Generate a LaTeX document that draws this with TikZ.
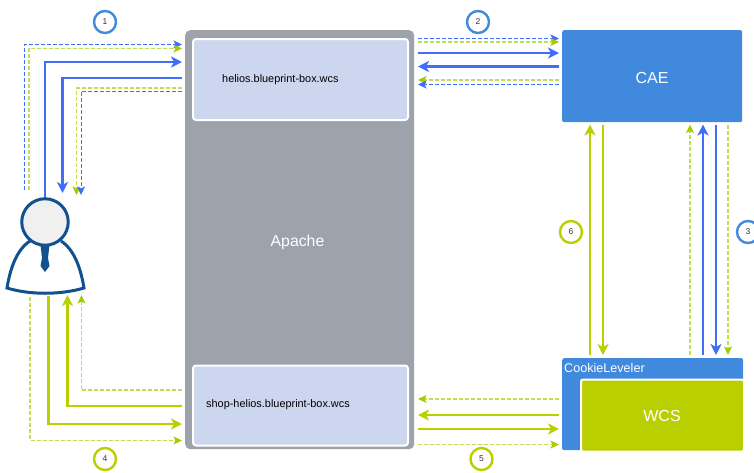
\documentclass[tikz,border=0pt]{standalone}
\usepackage{fontspec}
\setmainfont{Liberation Sans}
\usetikzlibrary{arrows.meta,positioning}
\definecolor{cblue}{HTML}{3F6FF8}
\definecolor{cgreen}{HTML}{B9CF00}
\definecolor{cdgreen}{HTML}{C4DC50}
\definecolor{chead}{HTML}{A5CC00}
\definecolor{cbox}{HTML}{4189DD}
\definecolor{cgrey}{HTML}{9EA2AA}
\definecolor{cpale}{HTML}{CCD6EE}
\definecolor{cman}{HTML}{11518F}
\tikzset{
 solidhead/.style={-{Stealth[length=11pt,width=11pt,inset=3pt]}},
 dashhead/.style={-{Stealth[length=8.5pt,width=8pt,inset=2pt]}},
 dashheadg/.style={-{Stealth[length=8.5pt,width=8pt,inset=2pt,color=chead]}},
 solidblue/.style={draw=cblue,line width=2.4pt},
 solidgreen/.style={draw=cgreen,line width=2.4pt},
 dashblue/.style={draw=cblue,line width=1pt,dash pattern=on 4pt off 2pt},
 dashgreen/.style={draw=cdgreen,line width=1.4pt,dash pattern=on 4pt off 2pt},
 panel/.style={draw=white,line width=2pt,fill=cpale,rounded corners=3pt,anchor=north west,inner sep=0pt},
 block/.style={fill=cbox,rounded corners=2pt,anchor=north west,inner sep=0pt},
 bigtext/.style={text=white,inner sep=0pt,font=\fontsize{16}{18}\selectfont},
 num/.style={circle,draw,line width=2.4pt,fill=white,minimum size=22pt,inner sep=0pt,font=\fontsize{8.5}{10}\selectfont,text=black!80},
 label/.style={font=\fontsize{10.9}{12}\selectfont,text=black,inner sep=0pt}
}
\begin{document}
\begin{tikzpicture}[x=1pt,y=-1pt]
\useasboundingbox (0,0) rectangle (754,472);
% boxes
\node[fill=cgrey,rounded corners=5pt,anchor=north west,inner sep=0pt,minimum width=229pt,minimum height=419pt] (apache) at (185,30) {};
\node[text=white,font=\fontsize{15.8}{18}\selectfont,inner sep=0pt] (apacheT) at (297.5,242) {Apache};
\node[panel,minimum width=215pt,minimum height=81pt] (helios) at (192,38) {};
\node[label,anchor=west] (heliosT) at (222,79.5) {helios.blueprint-box.wcs};
\node[panel,minimum width=215pt,minimum height=80pt] (shop) at (192,364.5) {};
\node[label,anchor=west] (shopT) at (206,405) {shop-helios.blueprint-box.wcs};
\node[block,minimum width=180pt,minimum height=92pt] (cae) at (562,30) {};
\node[bigtext] (caeT) at (652,77.5) {CAE};
\node[block,minimum width=181pt,minimum height=92pt] (cookie) at (562,358) {};
\node[text=white,anchor=west,inner sep=0pt,font=\fontsize{12.6}{14}\selectfont] (cookieT) at (564,368) {CookieLeveler};
\node[draw=white,line width=2pt,fill=cgreen,rounded corners=2pt,anchor=north west,inner sep=0pt,minimum width=163pt,minimum height=72pt] (wcs) at (580,378.5) {};
\node[bigtext] (wcsT) at (662,416) {WCS};
% person
\draw[cman,line width=3pt,fill=white,line join=miter] (30,241) .. controls (16,250) and (10,270) .. (7,288) .. controls (30,295) and (60,295) .. (84,288) .. controls (81,270) and (75,250) .. (61,241);
\fill[cman] (40.5,245) -- (49.5,245) -- (48,258) -- (49.5,266) -- (45,272) -- (40.5,266) -- (42,258) -- cycle;
% free ends
\coordinate (u1) at (24.5,190); \coordinate (h1) at (182,44.5);
\coordinate (u2) at (28.8,190); \coordinate (h2) at (182,48.5);
\coordinate (u3) at (45,198);   \coordinate (h3) at (182,62);
\coordinate (u4) at (62.5,193); \coordinate (h4) at (182,78);
\coordinate (u5) at (76.5,195); \coordinate (h5) at (182,88);
\coordinate (u6) at (81,195);   \coordinate (h6) at (182,91);
\coordinate (b1) at (30,297);   \coordinate (s1) at (182,440.5);
\coordinate (b2) at (48.5,296); \coordinate (s2) at (182,424);
\coordinate (b3) at (67.5,295); \coordinate (s3) at (182,406);
\coordinate (b4) at (81.5,295); \coordinate (s4) at (182,390);
% user <-> helios
\draw[dashblue,dashhead,cblue] (u1) |- (h1);
\draw[dashgreen,dashheadg] (u2) |- (h2);
\draw[solidblue,solidhead,cblue] (u3) |- (h3);
\draw[solidblue,solidhead,cblue] (h4) -| (u4);
\draw[dashgreen,dashheadg] (h5) -| (u5);
\draw[dashblue,dashhead,cblue] (h6) -| (u6);
\node[circle,draw=cman,line width=3pt,fill=black!6,minimum size=46.5pt,inner sep=0pt] (user) at (45,222) {};
% user <-> shop
\draw[dashgreen,dashheadg] (b1) |- (s1);
\draw[solidgreen,solidhead] (b2) |- (s2);
\draw[solidgreen,solidhead] (s3) -| (b3);
\draw[dashgreen,dashheadg] (s4) -| (b4);
% helios <-> cae
\foreach \n/\y in {a/38.5,b/42,c/53,d/66.5,e/80,f/84.5}{
 \coordinate (l\n) at (418,\y); \coordinate (r\n) at (559,\y);}
\draw[dashblue,dashhead,cblue] (la) -- (ra);
\draw[dashgreen,dashheadg] (lb) -- (rb);
\draw[solidblue,solidhead,cblue] (lc) -- (rc);
\draw[solidblue,solidhead,cblue] (rd) -- (ld);
\draw[dashgreen,dashheadg] (re) -- (le);
\draw[dashblue,dashhead,cblue] (rf) -- (lf);
% shop <-> cookie
\foreach \n/\y in {g/399,h/415,i/429,j/444.5}{
 \coordinate (l\n) at (418,\y); \coordinate (r\n) at (559,\y);}
\draw[dashgreen,dashheadg] (rg) -- (lg);
\draw[solidgreen,solidhead] (rh) -- (lh);
\draw[solidgreen,solidhead] (li) -- (ri);
\draw[dashgreen,dashheadg] (lj) -- (rj);
% cae <-> wcs
\foreach \n/\x in {k/590,m/603,n/690,o/703,p/716,q/728}{
 \coordinate (t\n) at (\x,124.5); \coordinate (d\n) at (\x,355);}
\draw[solidgreen,solidhead] (dk) -- (tk);
\draw[solidgreen,solidhead] (tm) -- (dm);
\draw[dashgreen,dashheadg] (dn) -- (tn);
\draw[solidblue,solidhead,cblue] (do) -- (to);
\draw[solidblue,solidhead,cblue] (tp) -- (dp);
\draw[dashgreen,dashheadg] (tq) -- (dq);
% numbers
\node[num,draw=cbox] (n1) at (105,22) {1};
\node[num,draw=cbox] (n2) at (478,22) {2};
\node[num,draw=cbox] (n3) at (748,232) {3};
\node[num,draw=cgreen] (n4) at (105,459) {4};
\node[num,draw=cgreen] (n5) at (481.5,459) {5};
\node[num,draw=cgreen] (n6) at (571,232) {6};
\end{tikzpicture}
\end{document}
